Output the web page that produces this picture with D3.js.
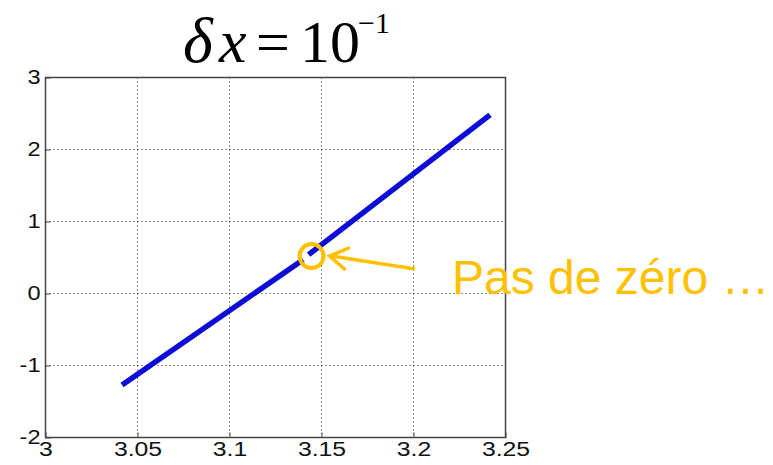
<!DOCTYPE html>
<html>
<head>
<meta charset="utf-8">
<script src="https://cdn.jsdelivr.net/npm/d3@7/dist/d3.min.js"></script>
<style>
  html, body { margin: 0; padding: 0; background: #fff; }
  svg { display: block; }
</style>
</head>
<body>
<svg id="chart" width="773" height="465"></svg>
<script>
// Sampled curve, drawn as two pieces with a small break near x = π
const segmentA = [
  [3.0416, -1.27],
  [3.1400,  0.47]
];
const segmentB = [
  [3.1430,  0.54],
  [3.2416,  2.48]
];
const xTicks = [3, 3.05, 3.1, 3.15, 3.2, 3.25];
const yTicks = [-2, -1, 0, 1, 2, 3];
const xTickLabels = ["3", "3.05", "3.1", "3.15", "3.2", "3.25"];
const yTickLabels = ["-2", "-1", "0", "1", "2", "3"];
const markerPoint = [3.1446, 0.52];
const noteText = "Pas de zéro …";

const svg = d3.select("#chart");
const plotL = 45.5, plotR = 505.5, plotT = 77.5, plotB = 437.5;

const x = d3.scaleLinear().domain([3, 3.25]).range([plotL, plotR]);
const y = d3.scaleLinear().domain([-2, 3]).range([plotB, plotT]);

// Dotted grid on interior ticks
const grid = svg.append("g");
grid.selectAll("line.gx")
  .data(xTicks.slice(1, -1))
  .join("line")
  .attr("x1", d => x(d)).attr("x2", d => x(d))
  .attr("y1", plotT).attr("y2", plotB)
  .attr("stroke", "#222").attr("stroke-width", 1)
  .attr("stroke-dasharray", "1,3");
grid.selectAll("line.gy")
  .data(yTicks.slice(1, -1))
  .join("line")
  .attr("y1", d => y(d)).attr("y2", d => y(d))
  .attr("x1", plotL).attr("x2", plotR)
  .attr("stroke", "#222").attr("stroke-width", 1)
  .attr("stroke-dasharray", "1,3");

// Frame
svg.append("rect")
  .attr("x", plotL).attr("y", plotT)
  .attr("width", plotR - plotL).attr("height", plotB - plotT)
  .attr("fill", "none").attr("stroke", "#444").attr("stroke-width", 1.5);

// Axes with inward ticks
const xAxis = d3.axisBottom(x).tickValues(xTicks)
  .tickFormat((d, i) => xTickLabels[i]).tickSizeInner(-5).tickSizeOuter(0).tickPadding(4);
const yAxis = d3.axisLeft(y).tickValues(yTicks)
  .tickFormat((d, i) => yTickLabels[i]).tickSizeInner(-5).tickSizeOuter(0).tickPadding(5);

const gx = svg.append("g").attr("transform", `translate(0,${plotB})`).call(xAxis);
const gy = svg.append("g").attr("transform", `translate(${plotL},0)`).call(yAxis);
[gx, gy].forEach(g => {
  g.select(".domain").remove();
  g.selectAll(".tick line").attr("stroke", "#444");
  g.selectAll(".tick text")
    .attr("font-family", "'Liberation Sans', Arial, sans-serif")
    .attr("fill", "#111");
});
gx.selectAll(".tick text")
  .attr("font-size", 21)
  .attr("dy", "0.71em")
  .style("transform-box", "fill-box").style("transform-origin", "center")
  .style("transform", "scaleX(1.18)");
gy.selectAll(".tick text")
  .attr("font-size", 20)
  .style("transform-box", "fill-box").style("transform-origin", "right")
  .style("transform", "scaleX(1.18)");

// Curve
const line = d3.line().x(d => x(d[0])).y(d => y(d[1]));
[segmentA, segmentB].forEach(seg => {
  svg.append("path")
    .attr("d", line(seg))
    .attr("fill", "none")
    .attr("stroke", "#0c0cd4")
    .attr("stroke-width", 5.5)
    .attr("stroke-linecap", "butt")
    .attr("stroke-linejoin", "round");
});

// Annotation
const gold = "#FFC000";
const cx = x(markerPoint[0]), cy = y(markerPoint[1]);
svg.append("circle")
  .attr("cx", cx).attr("cy", cy).attr("r", 12)
  .attr("fill", "none").attr("stroke", gold).attr("stroke-width", 4);

const tipX = cx + 18, tipY = cy;
svg.append("line")
  .attr("x1", 415).attr("y1", 269).attr("x2", tipX + 2).attr("y2", tipY)
  .attr("stroke", gold).attr("stroke-width", 3.5);
svg.append("path")
  .attr("d", `M${tipX + 19},${tipY - 8} L${tipX},${tipY} L${tipX + 15},${tipY + 13}`)
  .attr("fill", "none").attr("stroke", gold).attr("stroke-width", 3.5)
  .attr("stroke-linecap", "round").attr("stroke-linejoin", "miter");

svg.append("text")
  .attr("x", 452).attr("y", 294)
  .attr("font-family", "'Liberation Sans', Arial, sans-serif")
  .attr("font-size", 48)
  .attr("fill", gold)
  .text(noteText);

// Title: δx = 10^-1
const serif = "'Liberation Serif', 'Times New Roman', serif";
const title = svg.append("g")
  .attr("font-family", serif)
  .attr("fill", "#000");
title.append("text").attr("x", 183).attr("y", 62)
  .attr("font-size", 64).attr("font-style", "italic").text("δ");
title.append("text").attr("x", 219).attr("y", 62)
  .attr("font-size", 62).attr("font-style", "italic").text("x");
title.append("text").attr("x", 256).attr("y", 62)
  .attr("font-size", 60).text("=");
title.append("text").attr("x", 300).attr("y", 62)
  .attr("font-size", 60).text("10");
title.append("text").attr("x", 358).attr("y", 33)
  .attr("font-size", 30).text("−1");
</script>
</body>
</html>
